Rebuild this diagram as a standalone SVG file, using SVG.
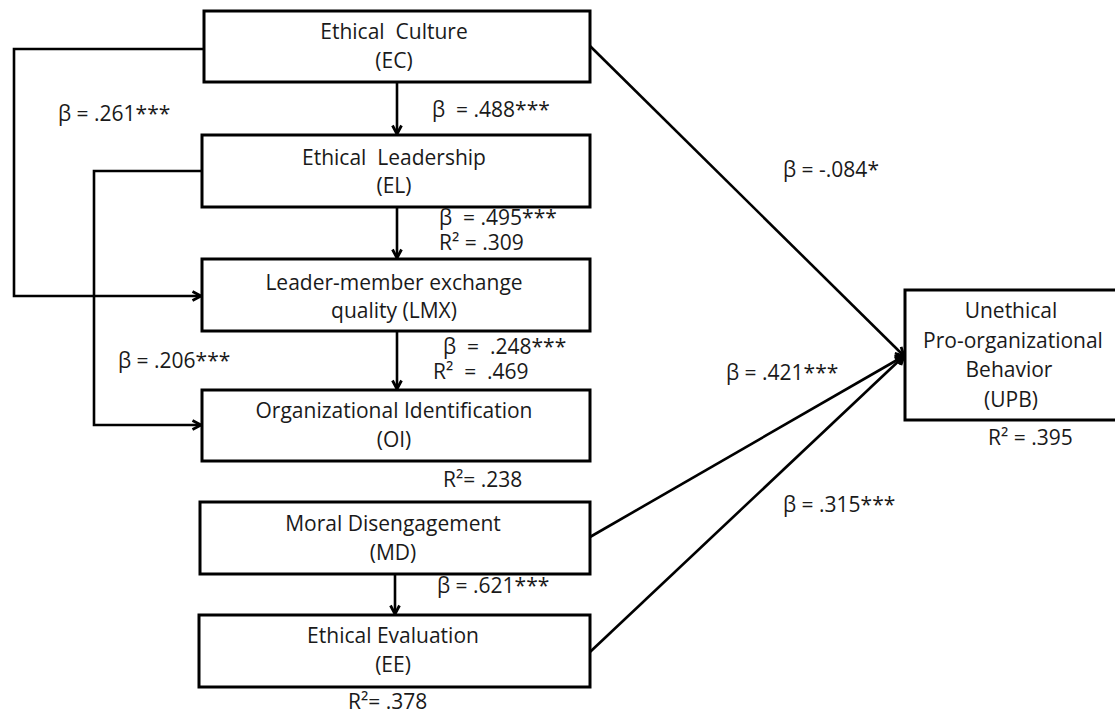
<svg xmlns="http://www.w3.org/2000/svg" width="1115" height="714" viewBox="0 0 1115 714">
<defs>
<marker id="arr" markerUnits="userSpaceOnUse" viewBox="0 0 12 12" refX="10.5" refY="6" markerWidth="12" markerHeight="12" orient="auto">
<path d="M2,1.5 L10.5,6 L2,10.5" fill="none" stroke="#000" stroke-width="2.8" stroke-linejoin="miter"/>
</marker>
<style>
text{font-family:"Open Sans","Noto Sans","Liberation Sans",sans-serif;font-size:21px;fill:#1a1a1a}
.c{text-anchor:middle}
.box{fill:#fff;stroke:#000;stroke-width:3}
.ln{fill:none;stroke:#000;stroke-width:2.6}
</style>
</defs>
<rect width="1115" height="714" fill="#fff"/>
<g id="connectors">
<path class="ln" d="M204,49 H14 V296 H201" marker-end="url(#arr)"/>
<path class="ln" d="M202,171 H94 V425 H201" marker-end="url(#arr)"/>
<path class="ln" d="M397,82 V134" marker-end="url(#arr)"/>
<path class="ln" d="M397,207 V258" marker-end="url(#arr)"/>
<path class="ln" d="M397,331 V389" marker-end="url(#arr)"/>
<path class="ln" d="M395,574 V614" marker-end="url(#arr)"/>
<path class="ln" d="M590,46 L904,356" marker-end="url(#arr)"/>
<path class="ln" d="M590,537 L904,356" marker-end="url(#arr)"/>
<path class="ln" d="M590,652 L904,356" marker-end="url(#arr)"/>
</g>
<g id="EC"><rect class="box" x="204" y="11" width="386" height="71"/><text class="c" x="394" y="39">Ethical&#160; Culture</text><text class="c" x="394" y="68">(EC)</text></g>
<g id="EL"><rect class="box" x="202" y="135" width="388" height="72"/><text class="c" x="394" y="165">Ethical&#160; Leadership</text><text class="c" x="394" y="193">(EL)</text></g>
<g id="LMX"><rect class="box" x="202" y="259" width="388" height="72"/><text class="c" x="394" y="290">Leader-member exchange</text><text class="c" x="394" y="318">quality (LMX)</text></g>
<g id="OI"><rect class="box" x="202" y="390" width="388" height="71"/><text class="c" x="394" y="418">Organizational Identification</text><text class="c" x="394" y="447">(OI)</text></g>
<g id="MD"><rect class="box" x="200" y="502" width="390" height="72"/><text class="c" x="393" y="531">Moral Disengagement</text><text class="c" x="393" y="560">(MD)</text></g>
<g id="EE"><rect class="box" x="199" y="615" width="391" height="72"/><text class="c" x="393" y="643">Ethical Evaluation</text><text class="c" x="393" y="672">(EE)</text></g>
<g id="UPB"><rect class="box" x="905" y="290" width="213" height="130"/><text class="c" x="1011" y="318">Unethical</text><text class="c" x="1013" y="348">Pro-organizational</text><text class="c" x="1009" y="377">Behavior</text><text class="c" x="1011" y="407">(UPB)</text></g>
<g id="labels">
<text x="58" y="121">β = .261***</text>
<text x="432" y="117">β&#160; = .488***</text>
<text x="439" y="225">β&#160; = .495***</text>
<text x="439" y="250">R² = .309</text>
<text x="443" y="354">β&#160; =&#160; .248***</text>
<text x="433" y="379">R²&#160; =&#160; .469</text>
<text x="118" y="368">β = .206***</text>
<text x="443" y="487">R²= .238</text>
<text x="437" y="593">β = .621***</text>
<text x="348" y="709">R²= .378</text>
<text x="783" y="177">β = -.084*</text>
<text x="726" y="380">β = .421***</text>
<text x="783" y="512">β = .315***</text>
<text x="988" y="445">R² = .395</text>
</g>
</svg>
